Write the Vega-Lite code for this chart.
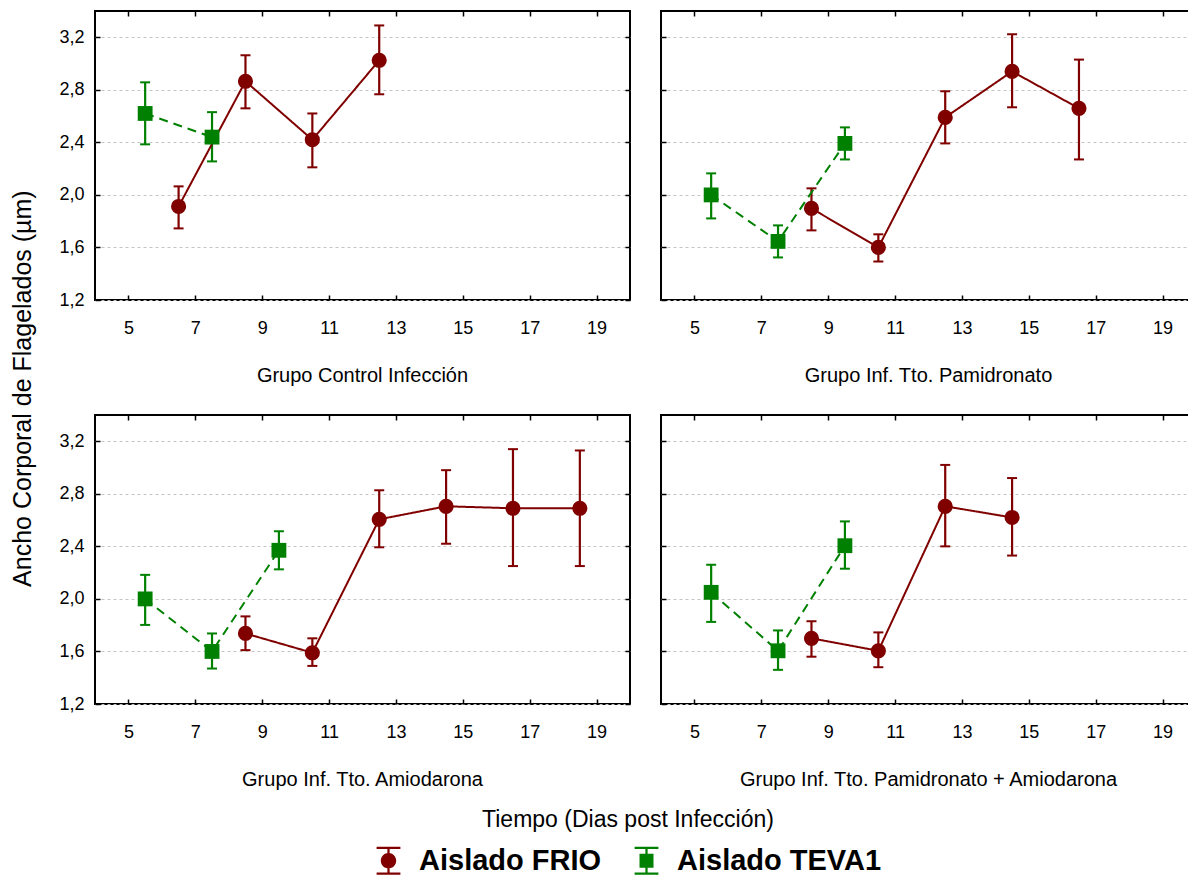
{
  "$schema": "https://vega.github.io/schema/vega-lite/v6.json",
  "padding": {"left": 10, "top": 9, "right": 0, "bottom": 0},
  "background": "white",
  "title": {"text": "Ancho Corporal de Flagelados (µm)", "orient": "left", "anchor": "middle", "fontSize": 25, "fontWeight": "normal", "color": "black", "offset": 22, "dx": 54},
  "data": {"values": [
    {"g": "A", "iso": "Aislado TEVA1", "t": 5.5, "m": 2.62, "lo": 2.385, "hi": 2.857},
    {"g": "A", "iso": "Aislado TEVA1", "t": 7.5, "m": 2.44, "lo": 2.255, "hi": 2.63},
    {"g": "A", "iso": "Aislado FRIO", "t": 6.5, "m": 1.912, "lo": 1.745, "hi": 2.065},
    {"g": "A", "iso": "Aislado FRIO", "t": 8.5, "m": 2.865, "lo": 2.659, "hi": 3.063},
    {"g": "A", "iso": "Aislado FRIO", "t": 10.5, "m": 2.42, "lo": 2.21, "hi": 2.62},
    {"g": "A", "iso": "Aislado FRIO", "t": 12.5, "m": 3.025, "lo": 2.766, "hi": 3.29},
    {"g": "B", "iso": "Aislado TEVA1", "t": 5.5, "m": 2.0, "lo": 1.821, "hi": 2.164},
    {"g": "B", "iso": "Aislado TEVA1", "t": 7.5, "m": 1.646, "lo": 1.524, "hi": 1.768},
    {"g": "B", "iso": "Aislado TEVA1", "t": 9.5, "m": 2.392, "lo": 2.27, "hi": 2.514},
    {"g": "B", "iso": "Aislado FRIO", "t": 8.5, "m": 1.897, "lo": 1.73, "hi": 2.05},
    {"g": "B", "iso": "Aislado FRIO", "t": 10.5, "m": 1.6, "lo": 1.493, "hi": 1.7},
    {"g": "B", "iso": "Aislado FRIO", "t": 12.5, "m": 2.59, "lo": 2.392, "hi": 2.789},
    {"g": "B", "iso": "Aislado FRIO", "t": 14.5, "m": 2.94, "lo": 2.667, "hi": 3.223},
    {"g": "B", "iso": "Aislado FRIO", "t": 16.5, "m": 2.659, "lo": 2.27, "hi": 3.03},
    {"g": "C", "iso": "Aislado TEVA1", "t": 5.5, "m": 2.0, "lo": 1.802, "hi": 2.183},
    {"g": "C", "iso": "Aislado TEVA1", "t": 7.5, "m": 1.6, "lo": 1.47, "hi": 1.737},
    {"g": "C", "iso": "Aislado TEVA1", "t": 9.5, "m": 2.37, "lo": 2.225, "hi": 2.515},
    {"g": "C", "iso": "Aislado FRIO", "t": 8.5, "m": 1.737, "lo": 1.61, "hi": 1.867},
    {"g": "C", "iso": "Aislado FRIO", "t": 10.5, "m": 1.59, "lo": 1.49, "hi": 1.7},
    {"g": "C", "iso": "Aislado FRIO", "t": 12.5, "m": 2.606, "lo": 2.393, "hi": 2.827},
    {"g": "C", "iso": "Aislado FRIO", "t": 14.5, "m": 2.705, "lo": 2.42, "hi": 2.98},
    {"g": "C", "iso": "Aislado FRIO", "t": 16.5, "m": 2.69, "lo": 2.25, "hi": 3.14},
    {"g": "C", "iso": "Aislado FRIO", "t": 18.5, "m": 2.69, "lo": 2.25, "hi": 3.13},
    {"g": "D", "iso": "Aislado TEVA1", "t": 5.5, "m": 2.05, "lo": 1.825, "hi": 2.26},
    {"g": "D", "iso": "Aislado TEVA1", "t": 7.5, "m": 1.605, "lo": 1.46, "hi": 1.76},
    {"g": "D", "iso": "Aislado TEVA1", "t": 9.5, "m": 2.405, "lo": 2.23, "hi": 2.59},
    {"g": "D", "iso": "Aislado FRIO", "t": 8.5, "m": 1.7, "lo": 1.56, "hi": 1.83},
    {"g": "D", "iso": "Aislado FRIO", "t": 10.5, "m": 1.605, "lo": 1.48, "hi": 1.745},
    {"g": "D", "iso": "Aislado FRIO", "t": 12.5, "m": 2.705, "lo": 2.4, "hi": 3.02},
    {"g": "D", "iso": "Aislado FRIO", "t": 14.5, "m": 2.62, "lo": 2.33, "hi": 2.92}
  ]},
  "columns": 2,
  "spacing": {"row": 26, "column": 27},
  "concat": [
    {
      "width": 535, "height": 289,
      "title": {"text": "Grupo Control Infección", "orient": "bottom", "offset": 29, "fontSize": 20},
      "transform": [{"filter": "datum.g === 'A'"}],
      "resolve": {"axis": {"x": "independent", "y": "independent"}},
      "layer": [
        {"mark": {"type": "point", "filled": true, "opacity": 1, "size": 0},
         "encoding": {
           "x": {"field": "t", "type": "quantitative", "axis": null},
           "y": {"field": "m", "type": "quantitative", "axis": null},
           "shape": {"field": "iso", "type": "nominal", "scale": {"domain": ["Aislado FRIO", "Aislado TEVA1"], "range": ["M-0.85,-1H0.85V-0.84H-0.85Z M-0.85,0.84H0.85V1H-0.85Z M-0.08,-1H0.08V1H-0.08Z M-0.55,0A0.55,0.55 0 0,1 0.55,0A0.55,0.55 0 0,1 -0.55,0Z", "M-0.85,-1H0.85V-0.84H-0.85Z M-0.85,0.84H0.85V1H-0.85Z M-0.08,-1H0.08V1H-0.08Z M-0.5,-0.5H0.5V0.5H-0.5Z"]}, "legend": null},
           "color": {"field": "iso", "type": "nominal", "scale": {"domain": ["Aislado FRIO", "Aislado TEVA1"], "range": ["#800000", "#008000"]}, "legend": {
             "title": "Tiempo (Dias post Infección)", "orient": "bottom", "direction": "horizontal", "titleAnchor": "middle", "titleFontSize": 23, "titleFontWeight": "normal", "titleColor": "black", "titlePadding": 14, "titleLimit": 600, "labelFontSize": 29, "labelFontWeight": "bold", "labelColor": "black", "labelLimit": 400, "labelOffset": 16, "columnPadding": 30, "symbolSize": 784, "symbolStrokeWidth": 0, "symbolOpacity": 1, "offset": 18
           }}
         }},
        {"mark": {"type": "rule", "strokeWidth": 2.2, "opacity": 1},
         "encoding": {
           "x": {"field": "t", "type": "quantitative", "scale": {"domain": [4, 20], "nice": false, "zero": false}, "axis": {"values": [5, 7, 9, 11, 13, 15, 17, 19], "title": null, "grid": false, "tickSize": -5, "labelPadding": 24}},
           "y": {"field": "lo", "type": "quantitative", "scale": {"domain": [1.2, 3.4], "nice": false, "zero": false}, "axis": {"values": [1.2, 1.6, 2.0, 2.4, 2.8, 3.2], "title": null, "grid": true, "tickSize": -5, "labelPadding": 16, "labelExpr": "replace(format(datum.value, '.1f'), '.', ',')"}},
           "y2": {"field": "hi"},
           "color": {"field": "iso", "type": "nominal"}
         }},
        {"mark": {"type": "tick", "orient": "horizontal", "size": 10, "thickness": 2, "opacity": 1},
         "encoding": {"x": {"field": "t", "type": "quantitative", "axis": null}, "y": {"field": "lo", "type": "quantitative", "axis": null}, "color": {"field": "iso", "type": "nominal"}}},
        {"mark": {"type": "tick", "orient": "horizontal", "size": 10, "thickness": 2, "opacity": 1},
         "encoding": {"x": {"field": "t", "type": "quantitative", "axis": null}, "y": {"field": "hi", "type": "quantitative", "axis": null}, "color": {"field": "iso", "type": "nominal"}}},
        {"mark": {"type": "line", "strokeWidth": 2, "opacity": 1},
         "encoding": {
           "x": {"field": "t", "type": "quantitative", "axis": {"orient": "top", "labels": false, "grid": false, "tickSize": -5, "values": [5, 7, 9, 11, 13, 15, 17, 19], "title": null}},
           "y": {"field": "m", "type": "quantitative", "axis": {"orient": "right", "labels": false, "grid": false, "tickSize": -5, "values": [1.2, 1.6, 2.0, 2.4, 2.8, 3.2], "title": null}},
           "color": {"field": "iso", "type": "nominal"},
           "strokeDash": {"field": "iso", "type": "nominal", "scale": {"domain": ["Aislado FRIO", "Aislado TEVA1"], "range": [[1, 0], [9, 6]]}, "legend": null},
           "order": {"field": "t"}
         }},
        {"transform": [{"filter": "datum.iso === 'Aislado FRIO'"}],
         "mark": {"type": "point", "filled": true, "shape": "circle", "size": 230, "opacity": 1},
         "encoding": {"x": {"field": "t", "type": "quantitative", "axis": null}, "y": {"field": "m", "type": "quantitative", "axis": null}, "color": {"field": "iso", "type": "nominal"}}},
        {"transform": [{"filter": "datum.iso === 'Aislado TEVA1'"}],
         "mark": {"type": "point", "filled": true, "shape": "square", "size": 220, "opacity": 1},
         "encoding": {"x": {"field": "t", "type": "quantitative", "axis": null}, "y": {"field": "m", "type": "quantitative", "axis": null}, "color": {"field": "iso", "type": "nominal"}}}
      ]
    },
    {
      "width": 535, "height": 289,
      "title": {"text": "Grupo Inf. Tto. Pamidronato", "orient": "bottom", "offset": 29, "fontSize": 20},
      "transform": [{"filter": "datum.g === 'B'"}],
      "resolve": {"axis": {"x": "independent", "y": "independent"}},
      "layer": [
        {"mark": {"type": "rule", "strokeWidth": 2.2, "opacity": 1},
         "encoding": {
           "x": {"field": "t", "type": "quantitative", "scale": {"domain": [4, 20], "nice": false, "zero": false}, "axis": {"values": [5, 7, 9, 11, 13, 15, 17, 19], "title": null, "grid": false, "tickSize": -5, "labelPadding": 24}},
           "y": {"field": "lo", "type": "quantitative", "scale": {"domain": [1.2, 3.4], "nice": false, "zero": false}, "axis": {"values": [1.2, 1.6, 2.0, 2.4, 2.8, 3.2], "title": null, "grid": true, "labels": false, "tickSize": -5}},
           "y2": {"field": "hi"},
           "color": {"field": "iso", "type": "nominal"}
         }},
        {"mark": {"type": "tick", "orient": "horizontal", "size": 10, "thickness": 2, "opacity": 1},
         "encoding": {"x": {"field": "t", "type": "quantitative", "axis": null}, "y": {"field": "lo", "type": "quantitative", "axis": null}, "color": {"field": "iso", "type": "nominal"}}},
        {"mark": {"type": "tick", "orient": "horizontal", "size": 10, "thickness": 2, "opacity": 1},
         "encoding": {"x": {"field": "t", "type": "quantitative", "axis": null}, "y": {"field": "hi", "type": "quantitative", "axis": null}, "color": {"field": "iso", "type": "nominal"}}},
        {"mark": {"type": "line", "strokeWidth": 2, "opacity": 1},
         "encoding": {
           "x": {"field": "t", "type": "quantitative", "axis": {"orient": "top", "labels": false, "grid": false, "tickSize": -5, "values": [5, 7, 9, 11, 13, 15, 17, 19], "title": null}},
           "y": {"field": "m", "type": "quantitative", "axis": {"orient": "right", "labels": false, "grid": false, "tickSize": -5, "values": [1.2, 1.6, 2.0, 2.4, 2.8, 3.2], "title": null}},
           "color": {"field": "iso", "type": "nominal"},
           "strokeDash": {"field": "iso", "type": "nominal", "scale": {"domain": ["Aislado FRIO", "Aislado TEVA1"], "range": [[1, 0], [9, 6]]}, "legend": null},
           "order": {"field": "t"}
         }},
        {"transform": [{"filter": "datum.iso === 'Aislado FRIO'"}],
         "mark": {"type": "point", "filled": true, "shape": "circle", "size": 230, "opacity": 1},
         "encoding": {"x": {"field": "t", "type": "quantitative", "axis": null}, "y": {"field": "m", "type": "quantitative", "axis": null}, "color": {"field": "iso", "type": "nominal"}}},
        {"transform": [{"filter": "datum.iso === 'Aislado TEVA1'"}],
         "mark": {"type": "point", "filled": true, "shape": "square", "size": 220, "opacity": 1},
         "encoding": {"x": {"field": "t", "type": "quantitative", "axis": null}, "y": {"field": "m", "type": "quantitative", "axis": null}, "color": {"field": "iso", "type": "nominal"}}}
      ]
    },
    {
      "width": 535, "height": 289,
      "title": {"text": "Grupo Inf. Tto. Amiodarona", "orient": "bottom", "offset": 29, "fontSize": 20},
      "transform": [{"filter": "datum.g === 'C'"}],
      "resolve": {"axis": {"x": "independent", "y": "independent"}},
      "layer": [
        {"mark": {"type": "rule", "strokeWidth": 2.2, "opacity": 1},
         "encoding": {
           "x": {"field": "t", "type": "quantitative", "scale": {"domain": [4, 20], "nice": false, "zero": false}, "axis": {"values": [5, 7, 9, 11, 13, 15, 17, 19], "title": null, "grid": false, "tickSize": -5, "labelPadding": 24}},
           "y": {"field": "lo", "type": "quantitative", "scale": {"domain": [1.2, 3.4], "nice": false, "zero": false}, "axis": {"values": [1.2, 1.6, 2.0, 2.4, 2.8, 3.2], "title": null, "grid": true, "tickSize": -5, "labelPadding": 16, "labelExpr": "replace(format(datum.value, '.1f'), '.', ',')"}},
           "y2": {"field": "hi"},
           "color": {"field": "iso", "type": "nominal"}
         }},
        {"mark": {"type": "tick", "orient": "horizontal", "size": 10, "thickness": 2, "opacity": 1},
         "encoding": {"x": {"field": "t", "type": "quantitative", "axis": null}, "y": {"field": "lo", "type": "quantitative", "axis": null}, "color": {"field": "iso", "type": "nominal"}}},
        {"mark": {"type": "tick", "orient": "horizontal", "size": 10, "thickness": 2, "opacity": 1},
         "encoding": {"x": {"field": "t", "type": "quantitative", "axis": null}, "y": {"field": "hi", "type": "quantitative", "axis": null}, "color": {"field": "iso", "type": "nominal"}}},
        {"mark": {"type": "line", "strokeWidth": 2, "opacity": 1},
         "encoding": {
           "x": {"field": "t", "type": "quantitative", "axis": {"orient": "top", "labels": false, "grid": false, "tickSize": -5, "values": [5, 7, 9, 11, 13, 15, 17, 19], "title": null}},
           "y": {"field": "m", "type": "quantitative", "axis": {"orient": "right", "labels": false, "grid": false, "tickSize": -5, "values": [1.2, 1.6, 2.0, 2.4, 2.8, 3.2], "title": null}},
           "color": {"field": "iso", "type": "nominal"},
           "strokeDash": {"field": "iso", "type": "nominal", "scale": {"domain": ["Aislado FRIO", "Aislado TEVA1"], "range": [[1, 0], [9, 6]]}, "legend": null},
           "order": {"field": "t"}
         }},
        {"transform": [{"filter": "datum.iso === 'Aislado FRIO'"}],
         "mark": {"type": "point", "filled": true, "shape": "circle", "size": 230, "opacity": 1},
         "encoding": {"x": {"field": "t", "type": "quantitative", "axis": null}, "y": {"field": "m", "type": "quantitative", "axis": null}, "color": {"field": "iso", "type": "nominal"}}},
        {"transform": [{"filter": "datum.iso === 'Aislado TEVA1'"}],
         "mark": {"type": "point", "filled": true, "shape": "square", "size": 220, "opacity": 1},
         "encoding": {"x": {"field": "t", "type": "quantitative", "axis": null}, "y": {"field": "m", "type": "quantitative", "axis": null}, "color": {"field": "iso", "type": "nominal"}}}
      ]
    },
    {
      "width": 535, "height": 289,
      "title": {"text": "Grupo Inf. Tto. Pamidronato + Amiodarona", "orient": "bottom", "offset": 29, "fontSize": 20},
      "transform": [{"filter": "datum.g === 'D'"}],
      "resolve": {"axis": {"x": "independent", "y": "independent"}},
      "layer": [
        {"mark": {"type": "rule", "strokeWidth": 2.2, "opacity": 1},
         "encoding": {
           "x": {"field": "t", "type": "quantitative", "scale": {"domain": [4, 20], "nice": false, "zero": false}, "axis": {"values": [5, 7, 9, 11, 13, 15, 17, 19], "title": null, "grid": false, "tickSize": -5, "labelPadding": 24}},
           "y": {"field": "lo", "type": "quantitative", "scale": {"domain": [1.2, 3.4], "nice": false, "zero": false}, "axis": {"values": [1.2, 1.6, 2.0, 2.4, 2.8, 3.2], "title": null, "grid": true, "labels": false, "tickSize": -5}},
           "y2": {"field": "hi"},
           "color": {"field": "iso", "type": "nominal"}
         }},
        {"mark": {"type": "tick", "orient": "horizontal", "size": 10, "thickness": 2, "opacity": 1},
         "encoding": {"x": {"field": "t", "type": "quantitative", "axis": null}, "y": {"field": "lo", "type": "quantitative", "axis": null}, "color": {"field": "iso", "type": "nominal"}}},
        {"mark": {"type": "tick", "orient": "horizontal", "size": 10, "thickness": 2, "opacity": 1},
         "encoding": {"x": {"field": "t", "type": "quantitative", "axis": null}, "y": {"field": "hi", "type": "quantitative", "axis": null}, "color": {"field": "iso", "type": "nominal"}}},
        {"mark": {"type": "line", "strokeWidth": 2, "opacity": 1},
         "encoding": {
           "x": {"field": "t", "type": "quantitative", "axis": {"orient": "top", "labels": false, "grid": false, "tickSize": -5, "values": [5, 7, 9, 11, 13, 15, 17, 19], "title": null}},
           "y": {"field": "m", "type": "quantitative", "axis": {"orient": "right", "labels": false, "grid": false, "tickSize": -5, "values": [1.2, 1.6, 2.0, 2.4, 2.8, 3.2], "title": null}},
           "color": {"field": "iso", "type": "nominal"},
           "strokeDash": {"field": "iso", "type": "nominal", "scale": {"domain": ["Aislado FRIO", "Aislado TEVA1"], "range": [[1, 0], [9, 6]]}, "legend": null},
           "order": {"field": "t"}
         }},
        {"transform": [{"filter": "datum.iso === 'Aislado FRIO'"}],
         "mark": {"type": "point", "filled": true, "shape": "circle", "size": 230, "opacity": 1},
         "encoding": {"x": {"field": "t", "type": "quantitative", "axis": null}, "y": {"field": "m", "type": "quantitative", "axis": null}, "color": {"field": "iso", "type": "nominal"}}},
        {"transform": [{"filter": "datum.iso === 'Aislado TEVA1'"}],
         "mark": {"type": "point", "filled": true, "shape": "square", "size": 220, "opacity": 1},
         "encoding": {"x": {"field": "t", "type": "quantitative", "axis": null}, "y": {"field": "m", "type": "quantitative", "axis": null}, "color": {"field": "iso", "type": "nominal"}}}
      ]
    }
  ],
  "config": {
    "font": "Liberation Sans",
    "view": {"stroke": "black", "strokeWidth": 2},
    "axis": {"labelFont": "Liberation Sans", "labelFontSize": 18, "labelColor": "black", "tickColor": "black", "tickWidth": 1.5, "domain": false, "gridColor": "#c4c4c4", "gridDash": [3, 3], "gridWidth": 1},
    "title": {"font": "Liberation Sans", "fontWeight": "normal", "color": "black"},
    "legend": {"layout": {"bottom": {"anchor": "middle"}}}
  }
}
